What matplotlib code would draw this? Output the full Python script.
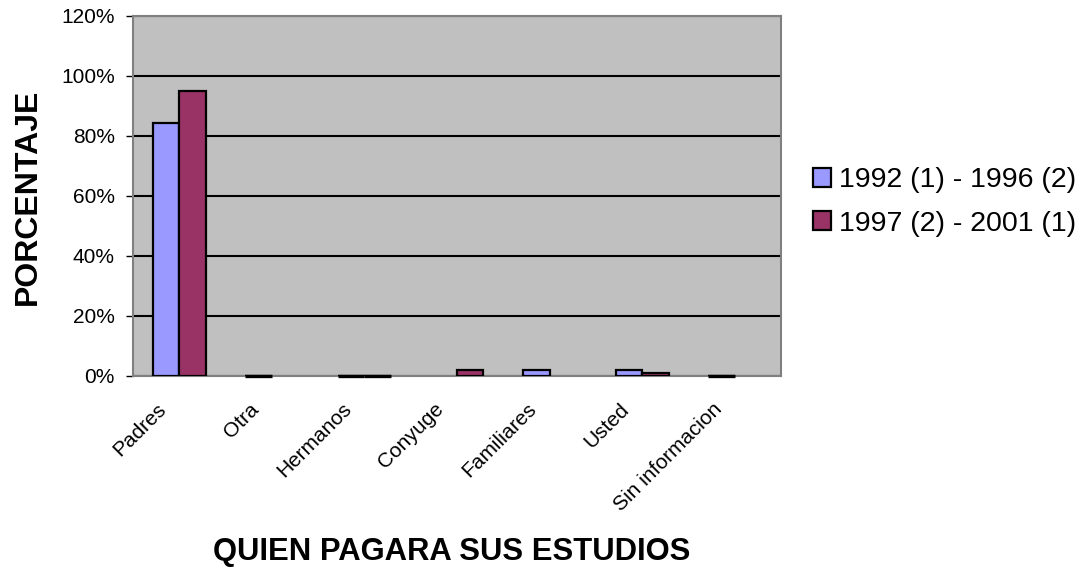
import numpy as np
import matplotlib
matplotlib.use("Agg")
import matplotlib.pyplot as plt
import matplotlib.transforms as mtransforms
from matplotlib.ticker import PercentFormatter

# data (percent)
categorias = ['Padres', 'Otra', 'Hermanos', 'Conyuge', 'Familiares', 'Usted', 'Sin informacion']
serie_1992 = [84.4, 0.0, 0.0, np.nan, 2.0, 2.0, 0.0]
serie_1997 = [94.9, np.nan, 0.0, 2.0, np.nan, 1.0, np.nan]
nombres = ['1992 (1) - 1996 (2)', '1997 (2) - 2001 (1)']
colores = ['#9999FF', '#993366']

plt.rcParams['font.family'] = ['Liberation Sans', 'DejaVu Sans']

fig = plt.figure(figsize=(10.86, 5.71), dpi=100)
ax = fig.add_axes([133 / 1086, 1 - 375.7 / 571, 648 / 1086, 360 / 571])
ax.set_facecolor('#C0C0C0')

x = np.arange(len(categorias))
w = 1 / 3.5
for i, (vals, nom, col) in enumerate(zip([serie_1992, serie_1997], nombres, colores)):
    pos = x + (i - 0.5) * w
    v = np.array(vals, dtype=float)
    mask = ~np.isnan(v)
    ax.bar(pos[mask], v[mask], width=w, color=col, edgecolor='black',
           linewidth=1.6, zorder=3, label=nom)
    # zero-valued bars show up as a flat black outline on the baseline
    zero = mask & (np.nan_to_num(v, nan=1) == 0)
    ax.hlines(v[zero], pos[zero] - w / 2, pos[zero] + w / 2, color='black',
              linewidth=2.4, zorder=4, clip_on=False)

ax.set_xlim(-0.5, len(categorias) - 0.5)
ax.set_ylim(0, 120)
ax.set_yticks(np.arange(0, 121, 20))
ax.yaxis.set_major_formatter(PercentFormatter(decimals=0))
ax.grid(axis='y', color='black', linewidth=1.5, zorder=1)
for s in ax.spines.values():
    s.set_color('#808080')
    s.set_linewidth(1.5)
ax.tick_params(axis='y', labelsize=15, length=5, width=1, color='black', pad=8)
ax.tick_params(axis='x', length=0, pad=22)
ax.set_xticks(x)
ax.set_xticklabels(categorias, rotation=45, ha='right', va='center',
                   rotation_mode='anchor', fontsize=15)
shift = mtransforms.ScaledTranslation(-16 / 100, 0, fig.dpi_scale_trans)
for lab in ax.get_xticklabels():
    lab.set_transform(lab.get_transform() + shift)

fig.text(28 / 1086, 1 - 196.5 / 571, 'PORCENTAJE', rotation=90, ha='center', va='center',
         fontsize=23, fontweight='bold')
fig.text(452 / 1086, 1 - 552 / 571, 'QUIEN PAGARA SUS ESTUDIOS', ha='center', va='center',
         fontsize=22.3, fontweight='bold')

leg = fig.legend(loc='center left', bbox_to_anchor=(813 / 1086, 1 - 202 / 571), frameon=False,
                 fontsize=20.5, handlelength=0.63, handleheight=0.63, handletextpad=0.3,
                 labelspacing=0.6, borderaxespad=0, borderpad=0)

fig.savefig('out.png', dpi=100)
